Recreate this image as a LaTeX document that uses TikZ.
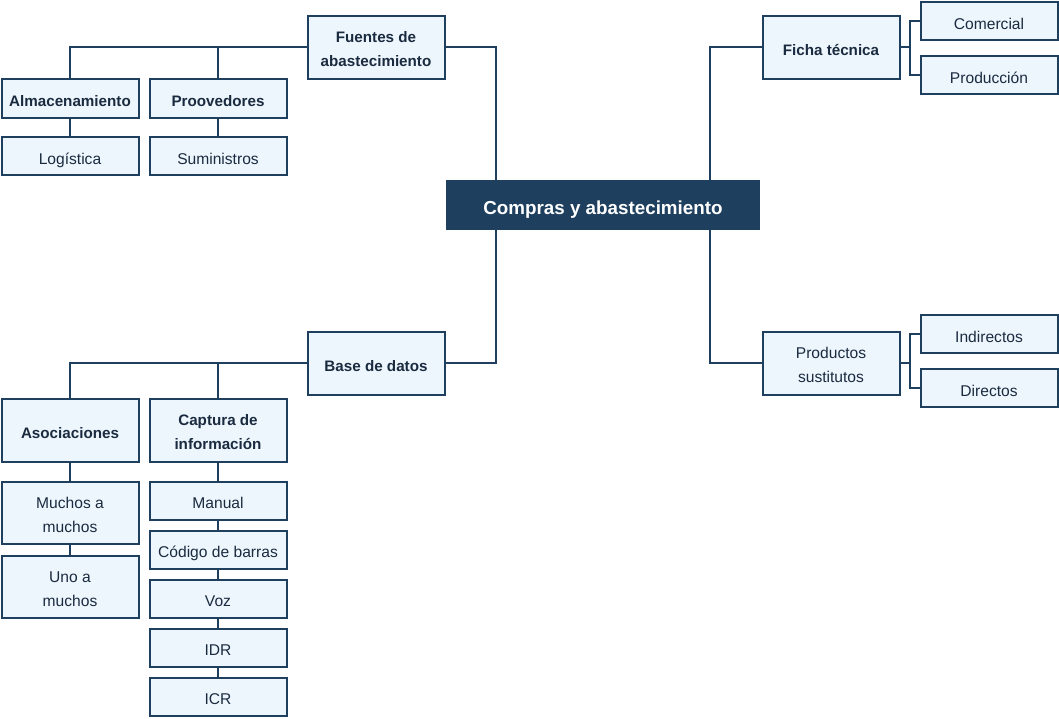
\documentclass[tikz,border=0pt]{standalone}
\usepackage{fontspec}
\setmainfont{Liberation Sans}
\usepackage{tikz}
\usetikzlibrary{
    positioning,
    calc
}
\definecolor{navy}{HTML}{1E3F5E}
\definecolor{paleblue}{HTML}{EEF6FD}
\definecolor{ink}{HTML}{1A2B40}

\begin{document}
\begin{tikzpicture}[
  x=1pt, y=-1pt,
  line width=2pt,
  node distance = 19.5pt,
  every node/.style = {outer sep=0pt},
  root/.style  = {rectangle, fill=navy, text=white, align=center,
                  font=\bfseries\fontsize{18.8}{22}\selectfont,
                  execute at begin node=\rule{0pt}{19.5pt}, text depth=0pt,
                  minimum width=314pt, minimum height=50pt},
  topic/.style = {rectangle, draw=navy, fill=paleblue, text=ink, align=center,
                  font=\bfseries\fontsize{15.2}{24}\selectfont,
                  execute at begin node=\rule{0pt}{16.5pt},
                  minimum width=137pt, minimum height=63pt, inner sep=2pt},
  leaf/.style  = {rectangle, draw=navy, fill=paleblue, text=ink, align=center,
                  font=\fontsize{15.6}{24}\selectfont,
                  execute at begin node=\rule{0pt}{16.5pt},
                  minimum width=137pt, minimum height=38pt, inner sep=2pt},
  oneline/.style = {text depth=0pt},
  twoline/.style = {execute at begin node=\rule{0pt}{40pt}},
  link/.style  = {draw=navy, line width=2pt}
]
\useasboundingbox (0,0) rectangle (1059,718);

% Nodes
\node[root] (compras) at (603,205) {Compras y abastecimiento};

\node[topic, twoline] (fuentes) at (376,47) {Fuentes de\\abastecimiento};
\node[topic, oneline, minimum height=39pt] (almacen) at (70,98) {Almacenamiento};
\node[topic, oneline, minimum height=39pt] (proov) at (218,98) {Proovedores};
\node[leaf, oneline, below=of almacen] (logist) {Logística};
\node[leaf, oneline, below=of proov] (sumin) {Suministros};

\node[topic, oneline] (ficha) at (831,47) {Ficha técnica};
\node[leaf, oneline] (comercial) at (989,21) {Comercial};
\node[leaf, oneline] (produccion) at (989,75) {Producción};

\node[leaf, twoline, minimum height=63pt] (productos) at (831,363) {Productos\\sustitutos};
\node[leaf, oneline] (indirectos) at (989,334) {Indirectos};
\node[leaf, oneline] (directos) at (989,388) {Directos};

\node[topic, oneline] (basedatos) at (376,363) {Base de datos};
\node[topic, oneline] (asoc) at (70,430) {Asociaciones};
\node[topic, twoline] (captura) at (218,430) {Captura de\\información};
\node[leaf, twoline, minimum height=62pt, below=20pt of asoc] (muchos) {Muchos a\\muchos};
\node[leaf, twoline, minimum height=62pt, below=12pt of muchos] (uno) {Uno a\\muchos};

\node[leaf, oneline, below=20pt of captura] (manual) {Manual};
\node[leaf, oneline, below=11pt of manual] (codigo) {Código de barras};
\node[leaf, oneline, below=11pt of codigo] (voz) {Voz};
\node[leaf, oneline, below=11pt of voz] (idr) {IDR};
\node[leaf, oneline, below=11pt of idr] (icr) {ICR};

% Links to the central node
\draw[link] (fuentes.east) -| ([xshift=50pt]compras.north west);
\draw[link] (basedatos.east) -| ([xshift=50pt]compras.south west);
\draw[link] (ficha.west) -| ([xshift=-50pt]compras.north east);
\draw[link] (productos.west) -| ([xshift=-50pt]compras.south east);

% Left branches
\draw[link] (fuentes.west) -| (almacen.north);
\draw[link] (fuentes.west) -| (proov.north);
\draw[link] (basedatos.west) -| (asoc.north);
\draw[link] (basedatos.west) -| (captura.north);

% Right branches
\foreach \a/\b in {ficha/comercial, ficha/produccion,
                   productos/indirectos, productos/directos}
  \draw[link] (\a.east) -- ++(10,0) |- (\b.west);

% Vertical chains
\foreach \a/\b in {almacen/logist, proov/sumin, asoc/muchos, muchos/uno,
                   captura/manual, manual/codigo, codigo/voz, voz/idr, idr/icr}
  \draw[link] (\a.south) -- (\b.north);

\end{tikzpicture}
\end{document}
